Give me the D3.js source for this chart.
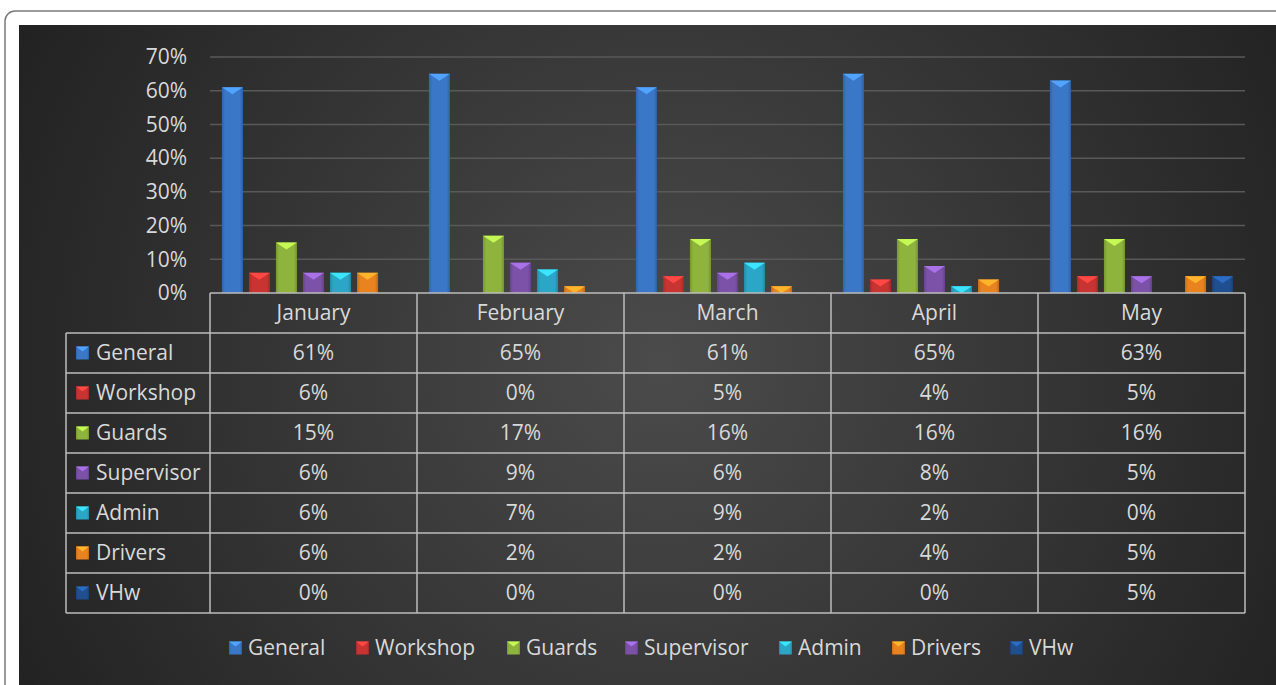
<!DOCTYPE html>
<html>
<head>
<meta charset="utf-8">
<script src="https://cdn.jsdelivr.net/npm/d3@7"></script>
<style>
  body { margin: 0; background: #ffffff; overflow: hidden; }
  svg { display: block; font-family: "Open Sans", "Noto Sans", sans-serif; }
</style>
</head>
<body>
<script>
//wrap everything in a self-executing anonymous function to move to local scope
(function(){

//chart data
var months = ["January", "February", "March", "April", "May"];
var seriesNames = ["General", "Workshop", "Guards", "Supervisor", "Admin", "Drivers", "VHw"];
var seriesColors = ["#3a77c6", "#c73431", "#8fb43d", "#7b52a8", "#2ba6c6", "#e9831f", "#1f4f8f"];
var general    = [61, 65, 61, 65, 63];
var workshop   = [6, 0, 5, 4, 5];
var guards     = [15, 17, 16, 16, 16];
var supervisor = [6, 9, 6, 8, 5];
var admin      = [6, 7, 9, 2, 0];
var drivers    = [6, 2, 2, 4, 5];
var vhw        = [0, 0, 0, 0, 5];
var yTicks = [0, 10, 20, 30, 40, 50, 60, 70];

var seriesValues = [general, workshop, guards, supervisor, admin, drivers, vhw];

//frame dimensions
var width = 1276,
    height = 685;

var textColor = "#d9d9d9",
    tableLine = "#bdbdbd";

var svg = d3.select("body")
    .append("svg")
    .attr("width", width)
    .attr("height", height);

var defs = svg.append("defs");

//dark background gradient
var bg = defs.append("radialGradient")
    .attr("id", "bgGrad")
    .attr("gradientUnits", "userSpaceOnUse")
    .attr("cx", 660).attr("cy", 360).attr("r", 720);
bg.append("stop").attr("offset", "0%").attr("stop-color", "#4b4b4b");
bg.append("stop").attr("offset", "100%").attr("stop-color", "#222222");

//horizontal shading for each bar colour
seriesColors.forEach(function(c, i){
    var g = defs.append("linearGradient")
        .attr("id", "barGrad" + i)
        .attr("x1", "0%").attr("x2", "100%").attr("y1", "0%").attr("y2", "0%");
    var base = d3.color(c);
    g.append("stop").attr("offset", "0%").attr("stop-color", base.darker(0.5));
    g.append("stop").attr("offset", "15%").attr("stop-color", base);
    g.append("stop").attr("offset", "85%").attr("stop-color", base);
    g.append("stop").attr("offset", "100%").attr("stop-color", base.darker(0.6));
});

//card outline
svg.append("rect")
    .attr("x", 5).attr("y", 11)
    .attr("width", width + 20).attr("height", height + 20)
    .attr("rx", 10).attr("ry", 10)
    .attr("fill", "#ffffff")
    .attr("stroke", "#7a7a7a")
    .attr("stroke-width", 1.5);

//chart area
svg.append("rect")
    .attr("x", 19).attr("y", 25)
    .attr("width", width - 19).attr("height", height - 25)
    .attr("fill", "url(#bgGrad)");

//scales
var plotLeft = 210, plotRight = 1245, plotTop = 57, plotBottom = 293;

var x0 = d3.scaleBand()
    .domain(months)
    .range([plotLeft, plotRight])
    .padding(0);

var x1 = d3.scaleBand()
    .domain(seriesNames)
    .range([0, x0.bandwidth()])
    .paddingInner(0.22)
    .paddingOuter(0.44);

var y = d3.scaleLinear()
    .domain([0, 70])
    .range([plotBottom, plotTop]);

//gridlines
svg.append("g")
    .selectAll("line")
    .data(yTicks.slice(1))
    .enter()
    .append("line")
    .attr("x1", plotLeft).attr("x2", plotRight)
    .attr("y1", function(d){ return y(d); })
    .attr("y2", function(d){ return y(d); })
    .attr("stroke", "#595959")
    .attr("stroke-width", 1.5);

//y axis labels
var yAxis = svg.append("g")
    .attr("transform", "translate(" + 187 + ",0)")
    .call(d3.axisLeft(y)
        .tickValues(yTicks)
        .tickSize(0)
        .tickPadding(0)
        .tickFormat(function(d){ return d + "%"; }));
yAxis.select(".domain").remove();
yAxis.selectAll("text")
    .attr("fill", textColor)
    .style("font-size", "21px")
    .style("font-family", "'Open Sans', sans-serif");

//bars
var bars = [];
seriesNames.forEach(function(s, si){
    months.forEach(function(m, mi){
        bars.push({series: s, si: si, month: m, value: seriesValues[si][mi]});
    });
});

var barG = svg.append("g")
    .selectAll("g")
    .data(bars.filter(function(d){ return d.value > 0; }))
    .enter()
    .append("g");

barG.append("rect")
    .attr("x", function(d){ return x0(d.month) + x1(d.series); })
    .attr("y", function(d){ return y(d.value); })
    .attr("width", x1.bandwidth())
    .attr("height", function(d){ return y(0) - y(d.value); })
    .attr("fill", function(d){ return "url(#barGrad" + d.si + ")"; });

//bevelled top of each bar
barG.append("path")
    .attr("d", function(d){
        var bx = x0(d.month) + x1(d.series),
            by = y(d.value),
            bw = x1.bandwidth(),
            depth = Math.min(7, y(0) - y(d.value));
        return "M" + bx + "," + by + "L" + (bx + bw) + "," + by +
            "L" + (bx + bw / 2) + "," + (by + depth) + "Z";
    })
    .attr("fill", function(d){ return d3.color(seriesColors[d.si]).brighter(0.9); });

//data table
var rowH = 40,
    tableLeft = 66,
    headerTop = 293,
    bodyTop = headerTop + rowH,
    tableBottom = bodyTop + rowH * seriesNames.length;

var table = svg.append("g");

//horizontal rules
table.append("line")
    .attr("x1", plotLeft).attr("x2", plotRight)
    .attr("y1", headerTop).attr("y2", headerTop)
    .attr("stroke", tableLine).attr("stroke-width", 1.5);

table.selectAll(".hrule")
    .data(d3.range(seriesNames.length + 1))
    .enter()
    .append("line")
    .attr("class", "hrule")
    .attr("x1", tableLeft).attr("x2", plotRight)
    .attr("y1", function(i){ return bodyTop + i * rowH; })
    .attr("y2", function(i){ return bodyTop + i * rowH; })
    .attr("stroke", tableLine).attr("stroke-width", 1.5);

//vertical rules
table.append("line")
    .attr("x1", tableLeft).attr("x2", tableLeft)
    .attr("y1", bodyTop).attr("y2", tableBottom)
    .attr("stroke", tableLine).attr("stroke-width", 1.5);

table.selectAll(".vrule")
    .data(months.concat(["end"]))
    .enter()
    .append("line")
    .attr("class", "vrule")
    .attr("x1", function(m){ return m === "end" ? plotRight : x0(m); })
    .attr("x2", function(m){ return m === "end" ? plotRight : x0(m); })
    .attr("y1", headerTop).attr("y2", tableBottom)
    .attr("stroke", tableLine).attr("stroke-width", 1.5);

//month headers
table.selectAll(".monthLabel")
    .data(months)
    .enter()
    .append("text")
    .attr("class", "monthLabel")
    .attr("x", function(m){ return x0(m) + x0.bandwidth() / 2; })
    .attr("y", headerTop + rowH / 2)
    .attr("dy", "0.35em")
    .attr("text-anchor", "middle")
    .attr("fill", textColor)
    .style("font-size", "21px")
    .text(function(m){ return m; });

//function to draw a small bevelled legend key
function drawKey(sel, kx, cy, si){
    var s = 13;
    sel.append("rect")
        .attr("x", kx).attr("y", cy - s / 2)
        .attr("width", s).attr("height", s)
        .attr("fill", "url(#barGrad" + si + ")");
    sel.append("path")
        .attr("d", "M" + kx + "," + (cy - s / 2) + "L" + (kx + s) + "," + (cy - s / 2) +
            "L" + (kx + s / 2) + "," + (cy - s / 2 + 5) + "Z")
        .attr("fill", d3.color(seriesColors[si]).brighter(0.9));
}

//series rows
seriesNames.forEach(function(s, si){
    var cy = bodyTop + si * rowH + rowH / 2;
    drawKey(table, 76, cy, si);
    table.append("text")
        .attr("x", 96)
        .attr("y", cy)
        .attr("dy", "0.35em")
        .attr("fill", textColor)
        .style("font-size", "21px")
        .text(s);
    table.selectAll(".cell" + si)
        .data(seriesValues[si])
        .enter()
        .append("text")
        .attr("x", function(v, mi){ return x0(months[mi]) + x0.bandwidth() / 2; })
        .attr("y", cy)
        .attr("dy", "0.35em")
        .attr("text-anchor", "middle")
        .attr("fill", textColor)
        .style("font-size", "21px")
        .text(function(v){ return v + "%"; });
});

//bottom legend
var legendX = [229, 356, 507, 625, 779, 892, 1010];
var legend = svg.append("g");
seriesNames.forEach(function(s, si){
    drawKey(legend, legendX[si], 648, si);
    legend.append("text")
        .attr("x", legendX[si] + 19)
        .attr("y", 648)
        .attr("dy", "0.35em")
        .attr("fill", textColor)
        .style("font-size", "21px")
        .text(s);
});

})();
</script>
</body>
</html>
